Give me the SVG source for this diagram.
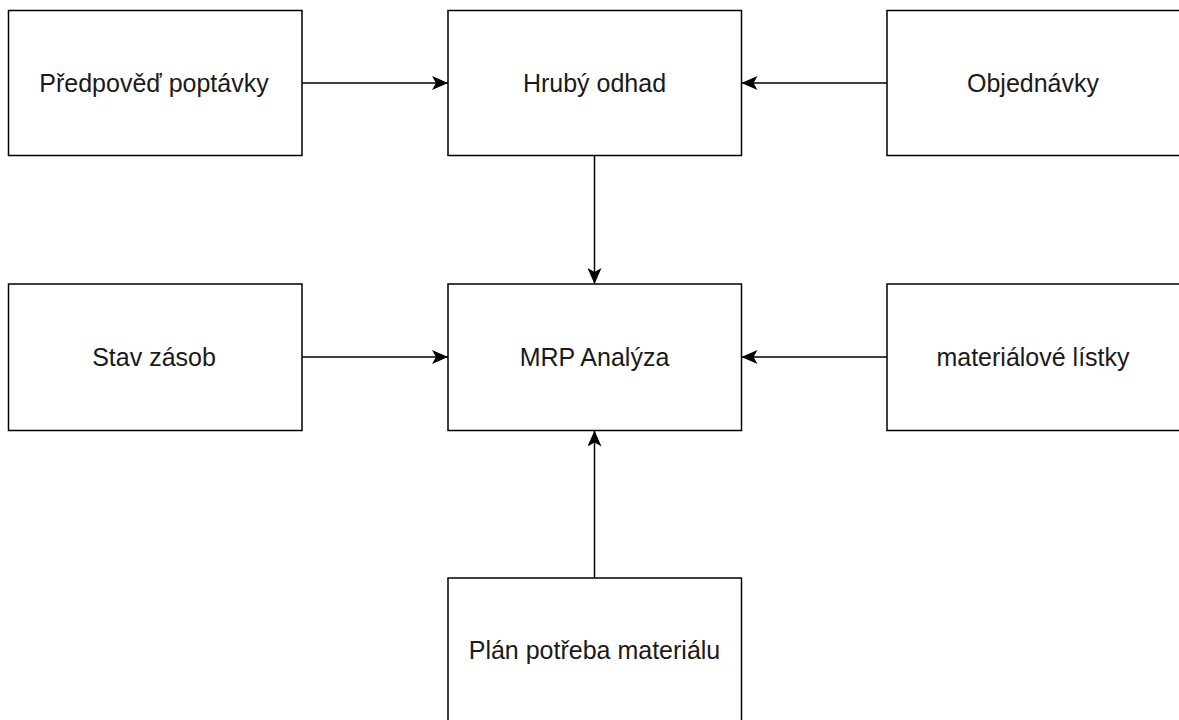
<svg xmlns="http://www.w3.org/2000/svg" width="1179" height="720" viewBox="0 0 1179 720">
<style>
.box{fill:#ffffff;stroke:#000000;stroke-width:1.5}
.lbl{font-family:"Liberation Sans",Arial,sans-serif;font-size:25px;fill:#1a1a1a;text-anchor:middle}
.edge{fill:none;stroke:#000000;stroke-width:1.5}
</style>
<defs>
<marker id="arr" viewBox="0 0 16 14" refX="16" refY="7" markerWidth="16" markerHeight="14" markerUnits="userSpaceOnUse" orient="auto">
<path d="M16,7 L0,0 L4,7 L0,14 Z" fill="#000000"/>
</marker>
</defs>
<rect width="1179" height="720" fill="#ffffff"/>
<g id="connectors">
<path class="edge" d="M302,83 L448,83" marker-end="url(#arr)"/>
<path class="edge" d="M887,83 L741.5,83" marker-end="url(#arr)"/>
<path class="edge" d="M594.5,155.5 L594.5,284" marker-end="url(#arr)"/>
<path class="edge" d="M302,357 L448,357" marker-end="url(#arr)"/>
<path class="edge" d="M887,357 L741.5,357" marker-end="url(#arr)"/>
<path class="edge" d="M594.5,578 L594.5,430.5" marker-end="url(#arr)"/>
</g>
<g id="n1"><rect class="box" x="8.5" y="10.5" width="293.5" height="145"/><text class="lbl" x="154" y="91.5">Předpověď poptávky</text></g>
<g id="n2"><rect class="box" x="448" y="10.5" width="293.5" height="145"/><text class="lbl" x="594.5" y="91.5">Hrubý odhad</text></g>
<g id="n3"><rect class="box" x="887" y="10.5" width="293.5" height="145"/><text class="lbl" x="1033" y="91.5">Objednávky</text></g>
<g id="n4"><rect class="box" x="8.5" y="284" width="293.5" height="146.5"/><text class="lbl" x="154" y="366">Stav zásob</text></g>
<g id="n5"><rect class="box" x="448" y="284" width="293.5" height="146.5"/><text class="lbl" x="594.5" y="366">MRP Analýza</text></g>
<g id="n6"><rect class="box" x="887" y="284" width="293.5" height="146.5"/><text class="lbl" x="1033" y="366">materiálové lístky</text></g>
<g id="n7"><rect class="box" x="448" y="578" width="293.5" height="146"/><text class="lbl" x="594.5" y="659">Plán potřeba materiálu</text></g>
</svg>
